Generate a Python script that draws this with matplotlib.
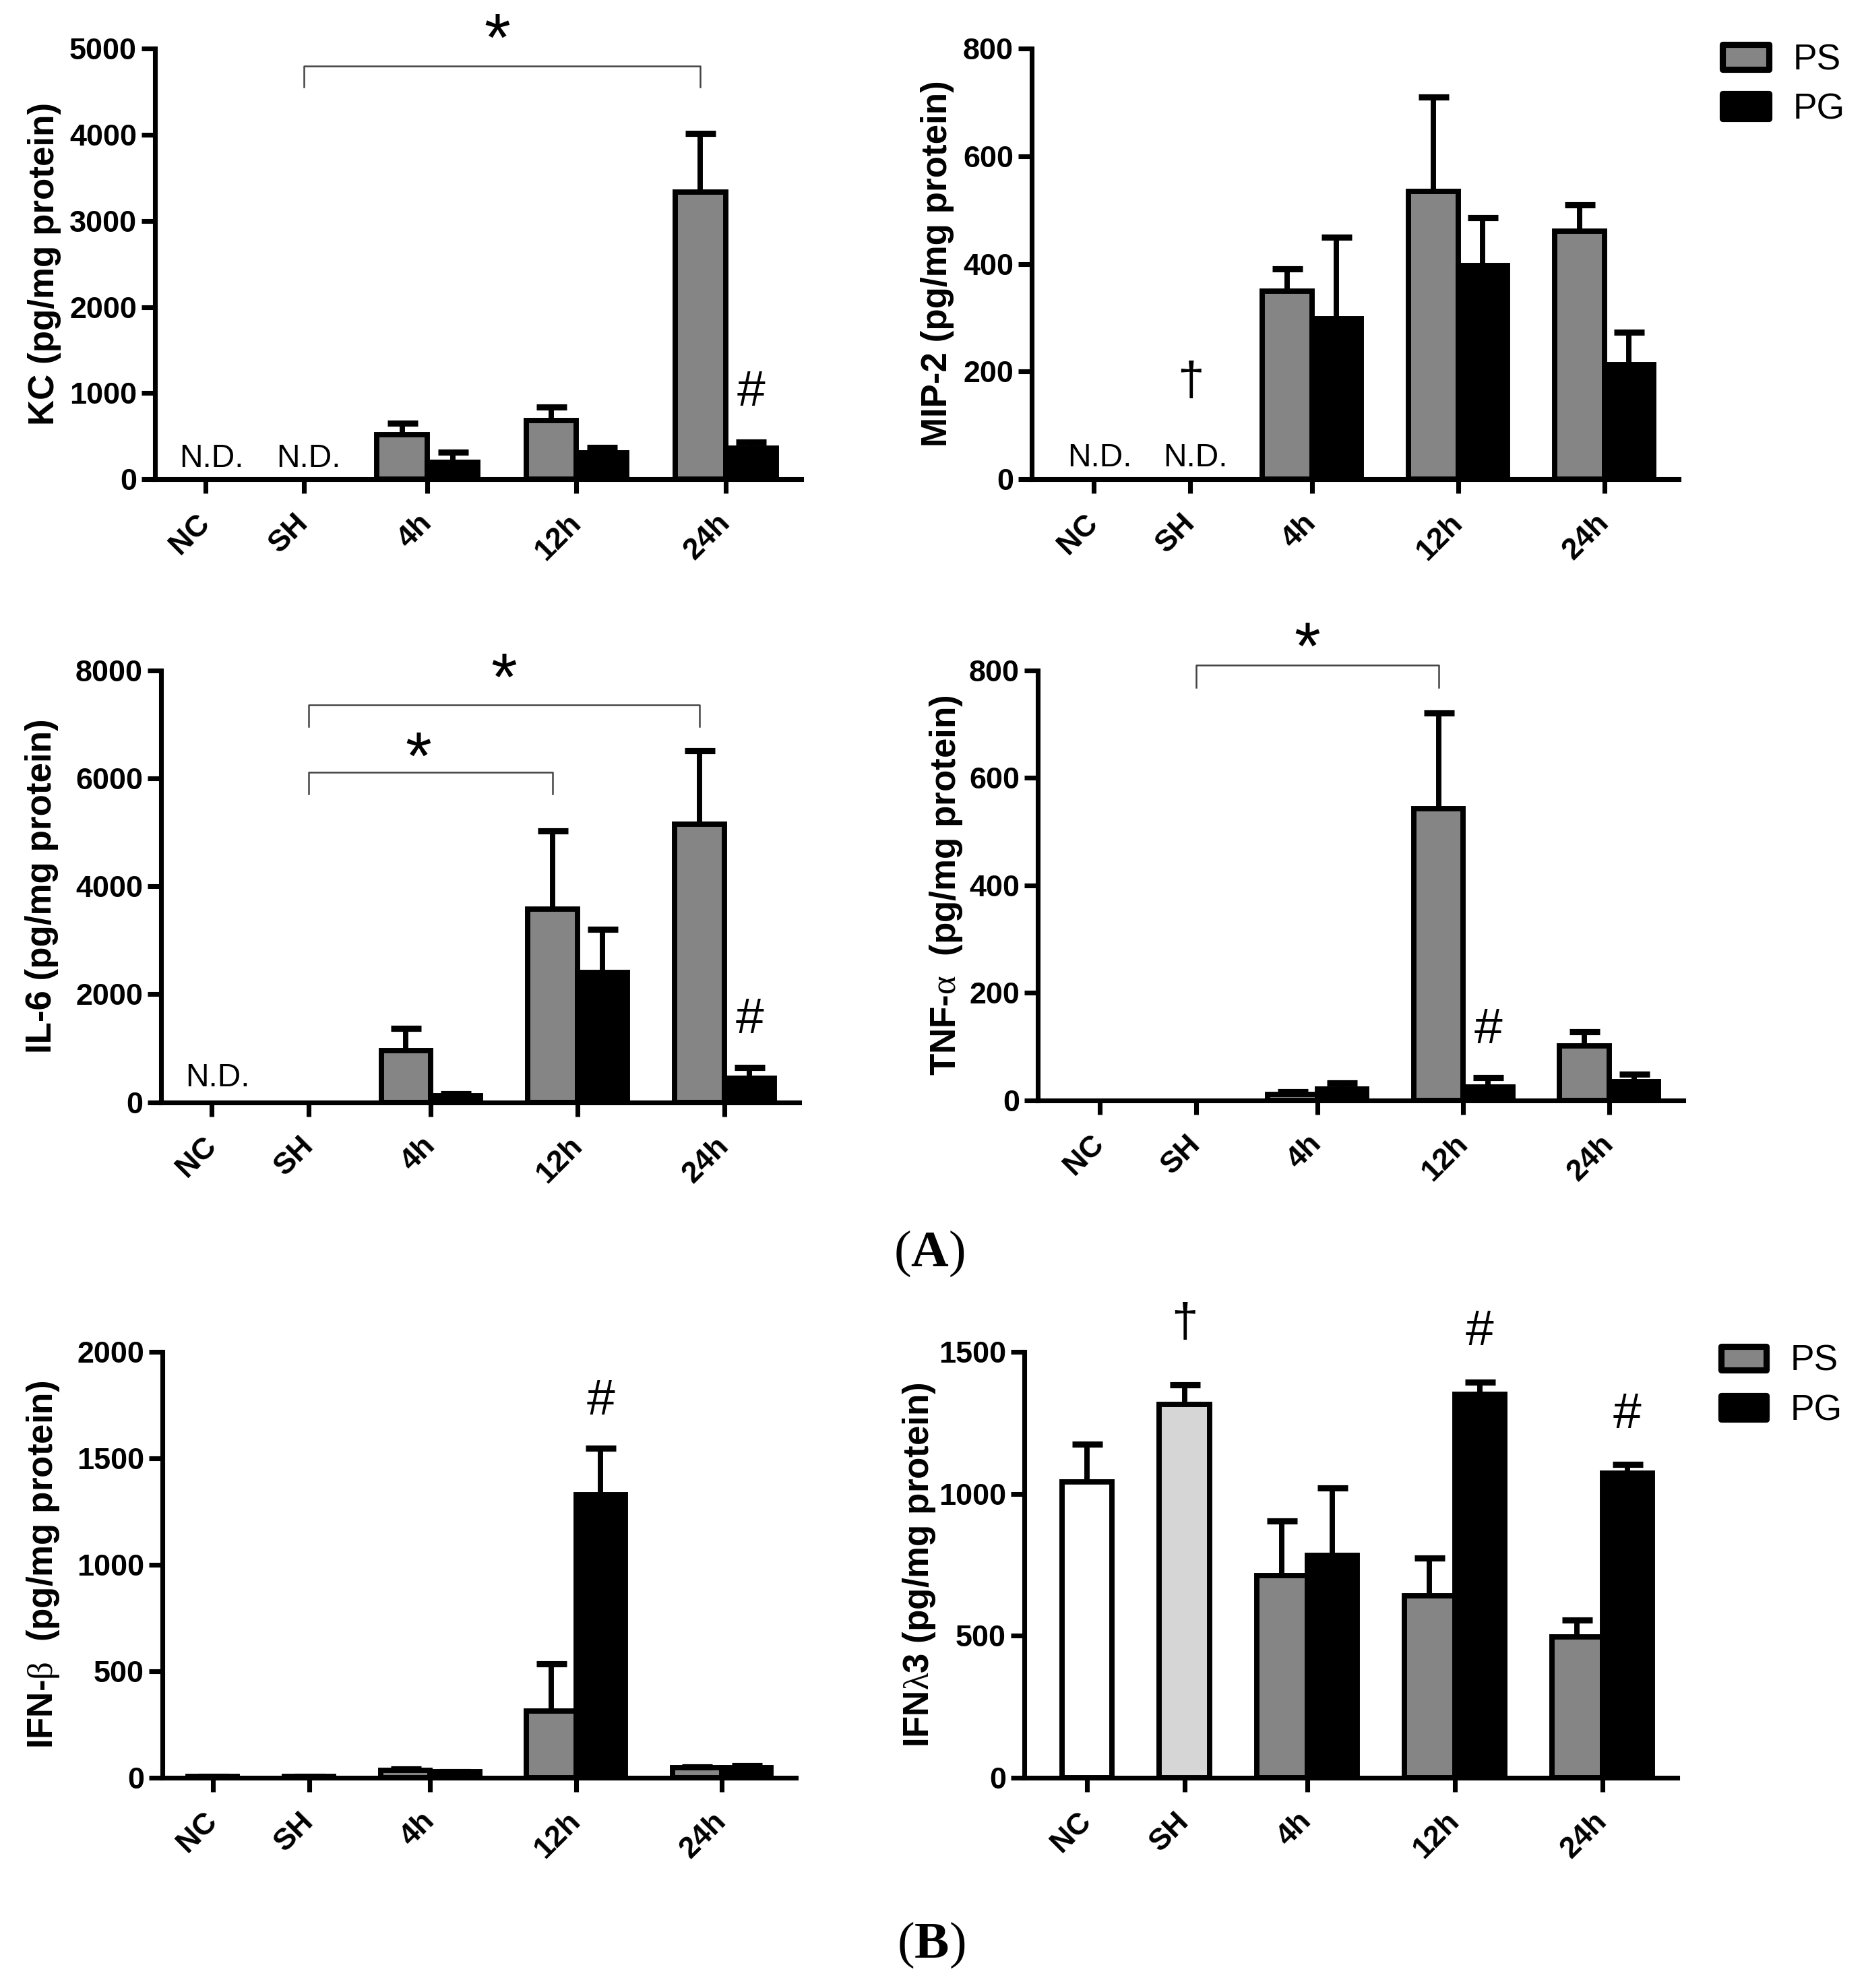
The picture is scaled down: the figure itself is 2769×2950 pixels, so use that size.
import numpy as np
import matplotlib
matplotlib.use('Agg')
import matplotlib.pyplot as plt
from matplotlib.patches import Rectangle
from matplotlib.transforms import offset_copy

plt.rcParams['font.family'] = ['Liberation Sans', 'DejaVu Sans']
plt.rcParams['mathtext.fontset'] = 'custom'
plt.rcParams['mathtext.rm'] = 'Liberation Serif'
plt.rcParams['mathtext.bf'] = 'Liberation Serif:bold'
plt.rcParams['mathtext.it'] = 'Liberation Serif:italic'

# ---------------- data ----------------
groups = ['NC', 'SH', '4h', '12h', '24h']
series = ['PS', 'PG']

kc_ps = [516, 682, 3332]
kc_ps_err = [134, 161, 681]
kc_pg = [202, 305, 359]
kc_pg_err = [112, 63, 76]

mip2_ps = [350, 534, 461]
mip2_ps_err = [41, 175, 48]
mip2_pg = [298, 397, 213]
mip2_pg_err = [152, 89, 60]

il6_ps = [960, 3574, 5150]
il6_ps_err = [401, 1454, 1360]
il6_pg = [122, 2399, 444]
il6_pg_err = [36, 802, 201]

tnf_ps = [11.5, 543, 101]
tnf_ps_err = [5, 178, 27]
tnf_pg = [21.6, 25, 34.5]
tnf_pg_err = [11.4, 18, 14.5]

ifnb_ctrl = [6, 6]
ifnb_ctrl_err = [0, 0]
ifnb_ps = [36, 312, 46]
ifnb_ps_err = [4, 222, 6]
ifnb_pg = [28, 1330, 48]
ifnb_pg_err = [2, 216, 8]

ifnl_ctrl = [1043, 1315]
ifnl_ctrl_err = [133, 68]
ifnl_ps = [711, 640, 496]
ifnl_ps_err = [193, 134, 60]
ifnl_pg = [783, 1350, 1073]
ifnl_pg_err = [238, 44, 31]

# ---------------- style ----------------
PS_C = '#858585'
PG_C = '#000000'
NC_C = '#ffffff'
SH_C = '#d6d6d6'
LW = 1.9
STAR_PT = 24
HASH_PT = 18
DAG_PT = 17
ND_PT = 11.5
TICK_PT = 10.8

W, H = 2769, 2950
DPI = 300
fig = plt.figure(figsize=(W / DPI, H / DPI), dpi=DPI)

BW = 1.0
GAP = 0.95
pos_nc = 0.5
pos_sh = pos_nc + BW + GAP
ps_pos = [pos_sh + BW / 2 + GAP + BW / 2 + i * (2 * BW + GAP) for i in range(3)]
pg_pos = [p + BW for p in ps_pos]
tick_pos = [pos_nc, pos_sh] + [p + BW / 2 for p in ps_pos]
X_RIGHT = 12.3


def make_ax(l, r, t, b, xleft, ymax, ystep, ylabel, ylab_x):
    ax = fig.add_axes([l / W, 1 - b / H, (r - l) / W, (b - t) / H])
    ax.set_xlim(xleft, X_RIGHT)
    ax.set_ylim(0, ymax)
    for s in ['top', 'right']:
        ax.spines[s].set_visible(False)
    for s in ['left', 'bottom']:
        ax.spines[s].set_linewidth(1.7)
    ax.set_yticks(np.arange(0, ymax + 1, ystep))
    ax.set_xticks(tick_pos)
    ax.set_xticklabels(groups, rotation=45, ha='right', va='center',
                       rotation_mode='anchor', fontsize=TICK_PT, fontweight='bold')
    for lbl in ax.get_yticklabels():
        lbl.set_fontweight('bold')
        lbl.set_fontsize(TICK_PT)
    ax.tick_params(axis='x', length=5, width=1.7, pad=9)
    ax.tick_params(axis='y', length=4.8, width=1.7, pad=1.7)
    fig.text(ylab_x / W, 1 - (t + b) / 2 / H, ylabel, rotation=90,
             ha='center', va='center', fontsize=12.7, fontweight='bold')
    return ax


def draw_err(ax, x, y, e):
    _, caps, _ = ax.errorbar(x, y, yerr=[np.zeros(len(e)), e], fmt='none',
                             ecolor='k', elinewidth=LW, capsize=5.4,
                             capthick=2.2, zorder=3)
    caps[0].set_visible(False)


def draw_pairs(ax, ps, ps_e, pg, pg_e):
    ax.bar(ps_pos, ps, width=BW, color=PS_C, edgecolor='k', linewidth=LW, zorder=2)
    draw_err(ax, ps_pos, ps, ps_e)
    ax.bar(pg_pos, pg, width=BW, color=PG_C, edgecolor='k', linewidth=LW, zorder=2)
    draw_err(ax, pg_pos, pg, pg_e)


def draw_ctrl(ax, vals, errs):
    ax.bar([pos_nc, pos_sh], vals, width=BW, color=[NC_C, SH_C], edgecolor='k',
           linewidth=LW, zorder=2)
    draw_err(ax, [pos_nc, pos_sh], vals, errs)


def mark(ax, x, y, s, size, c_em):
    tr = offset_copy(ax.transData, fig=fig, x=0, y=-c_em * size, units='points')
    ax.text(x, y, s, transform=tr, ha='center', va='baseline', fontsize=size,
            clip_on=False)


def bracket(ax, x0, x1, y_top, y_low, star_y, star_dx=0.0):
    ax.plot([x0, x0, x1, x1], [y_low, y_top, y_top, y_low], color='#444444',
            lw=0.6, clip_on=False, zorder=4)
    mark(ax, (x0 + x1) / 2 + star_dx, star_y, '*', STAR_PT, 0.44)


# ---------------- KC ----------------
ax1 = make_ax(230, 1189, 71.7, 711.4, -0.496, 5000, 1000, 'KC (pg/mg protein)', 66)
draw_pairs(ax1, kc_ps, kc_ps_err, kc_pg, kc_pg_err)
bracket(ax1, pos_sh, ps_pos[2], 4798, 4552, 5201, star_dx=-0.1)
mark(ax1, pg_pos[2], 1054, '#', HASH_PT, 0.34)
mark(ax1, pos_nc + 0.12, 277, 'N.D.', ND_PT, 0.358)
mark(ax1, pos_sh + 0.1, 277, 'N.D.', ND_PT, 0.358)

# ---------------- MIP-2 ----------------
ax2 = make_ax(1531, 2491, 71.7, 711.4, -0.75, 800, 200, 'MIP-2 (pg/mg protein)', 1391)
draw_pairs(ax2, mip2_ps, mip2_ps_err, mip2_pg, mip2_pg_err)
mark(ax2, pos_sh, 183, '\u2020', DAG_PT, 0.30)
mark(ax2, pos_nc + 0.12, 46, 'N.D.', ND_PT, 0.358)
mark(ax2, pos_sh + 0.1, 46, 'N.D.', ND_PT, 0.358)

# ---------------- IL-6 ----------------
ax3 = make_ax(239, 1186, 994.7, 1635.5, -0.52, 8000, 2000, 'IL-6 (pg/mg protein)', 62)
draw_pairs(ax3, il6_ps, il6_ps_err, il6_pg, il6_pg_err)
bracket(ax3, pos_sh, ps_pos[1], 6116, 5712, 6536, star_dx=-0.25)
bracket(ax3, pos_sh, ps_pos[2], 7360, 6960, 8000)
mark(ax3, pg_pos[2], 1592, '#', HASH_PT, 0.34)
mark(ax3, pos_nc + 0.12, 505, 'N.D.', ND_PT, 0.358)

# ---------------- TNF-a ----------------
ax4 = make_ax(1540, 2498, 994.7, 1633, -0.75, 800, 200,
              r'TNF-$\mathrm{\alpha}$  (pg/mg protein)', 1404)
draw_pairs(ax4, tnf_ps, tnf_ps_err, tnf_pg, tnf_pg_err)
bracket(ax4, pos_sh, ps_pos[1], 810, 768, 858, star_dx=-0.2)
mark(ax4, pg_pos[1], 138, '#', HASH_PT, 0.34)

# ---------------- IFN-b ----------------
ax5 = make_ax(241, 1181, 2006, 2638, -0.518, 2000, 500,
              r'IFN-$\mathrm{\beta}$  (pg/mg protein)', 64)
draw_ctrl(ax5, ifnb_ctrl, ifnb_ctrl_err)
draw_pairs(ax5, ifnb_ps, ifnb_ps_err, ifnb_pg, ifnb_pg_err)
mark(ax5, pg_pos[1], 1785, '#', HASH_PT, 0.34)

# ---------------- IFN-lambda3 ----------------
ax6 = make_ax(1520, 2489, 2006, 2638, -0.75, 1500, 500,
              r'IFN$\mathrm{\lambda}$3 (pg/mg protein)', 1364)
draw_ctrl(ax6, ifnl_ctrl, ifnl_ctrl_err)
draw_pairs(ax6, ifnl_ps, ifnl_ps_err, ifnl_pg, ifnl_pg_err)
mark(ax6, pos_sh, 1604, '\u2020', DAG_PT, 0.30)
mark(ax6, pg_pos[1], 1585, '#', HASH_PT, 0.34)
mark(ax6, pg_pos[2], 1293, '#', HASH_PT, 0.34)


# ---------------- legends ----------------
def legend(x0, x1, rows):
    for (yt, yb, color, label, base) in rows:
        fig.patches.append(Rectangle((x0 / W, 1 - yb / H), (x1 - x0) / W, (yb - yt) / H,
                                     transform=fig.transFigure, facecolor=color,
                                     edgecolor='k', linewidth=2.2, joinstyle='round'))
        fig.text((x1 + 36) / W, 1 - base / H, label, fontsize=12.8, va='baseline',
                 ha='left')


legend(2556, 2625, [(66, 103, PS_C, series[0], 103.5), (139, 176, PG_C, series[1], 176.5)])
legend(2554, 2621, [(1998, 2033, PS_C, series[0], 2034), (2071, 2106, PG_C, series[1], 2107)])

# ---------------- panel letters ----------------
fig.text(1379 / W, 1 - 1879 / H, r'($\mathbf{A}$)', fontsize=18.5, ha='center',
         va='baseline', family='Liberation Serif')
fig.text(1382 / W, 1 - 2905 / H, r'($\mathbf{B}$)', fontsize=18.5, ha='center',
         va='baseline', family='Liberation Serif')

fig.savefig('out.png', dpi=DPI, facecolor='white')
